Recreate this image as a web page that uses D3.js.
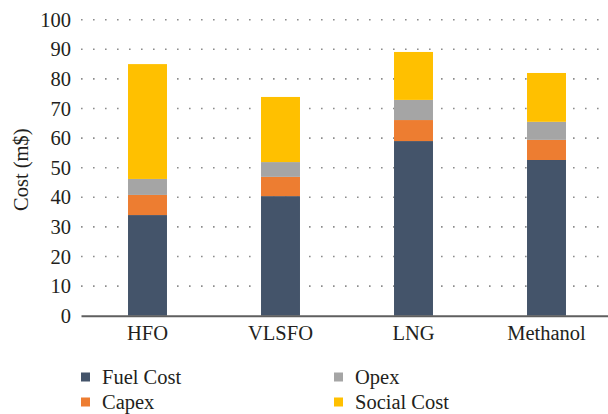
<!DOCTYPE html>
<html>
<head>
<meta charset="utf-8">
<script src="https://cdn.jsdelivr.net/npm/d3@7/dist/d3.min.js"></script>
<style>
  html, body { margin: 0; padding: 0; background: #fff; }
  svg { display: block; }
  svg text { font-family: "Liberation Serif", "DejaVu Serif", serif; fill: #231f20; }
</style>
</head>
<body>
<svg id="chart" width="608" height="414"></svg>
<script>
// Cost breakdown per fuel option (million $)
const categories = ["HFO", "VLSFO", "LNG", "Methanol"];
const seriesNames = ["Fuel Cost", "Capex", "Opex", "Social Cost"];
const fuelCost   = [34.0, 40.4, 59.0, 52.6];
const capex      = [6.8, 6.5, 7.1, 6.8];
const opex       = [5.4, 5.0, 6.8, 6.1];
const socialCost = [38.8, 22.0, 16.2, 16.5];
const yTicks = [0, 10, 20, 30, 40, 50, 60, 70, 80, 90, 100];
const colors = ["#44546A", "#ED7D31", "#A5A5A5", "#FFC000"];

const FONT = "'Liberation Serif', 'DejaVu Serif', serif";
const FS = 20.5;

const seriesValues = [fuelCost, capex, opex, socialCost];
const rows = categories.map((c, i) => {
  const r = { category: c };
  seriesNames.forEach((s, j) => { r[s] = seriesValues[j][i]; });
  return r;
});

const svg = d3.select("#chart");
const plotLeft = 81, plotRight = 613, plotTop = 19.7, plotBottom = 315.7;

const x = d3.scaleBand().domain(categories).range([plotLeft, plotRight])
  .paddingInner(0.707).paddingOuter(0.3535);
const y = d3.scaleLinear().domain([0, 100]).range([plotBottom, plotTop]);

// dotted horizontal gridlines
svg.append("g").selectAll("line").data(yTicks.filter(d => d > 0)).join("line")
  .attr("x1", plotLeft).attr("x2", plotRight)
  .attr("y1", d => y(d)).attr("y2", d => y(d))
  .attr("stroke", "#8c8c8c").attr("stroke-width", 1.6)
  .attr("stroke-dasharray", "1.6,10.4");

// y tick labels
const yAxis = svg.append("g").attr("transform", `translate(${plotLeft},0)`)
  .call(d3.axisLeft(y).tickValues(yTicks).tickSize(0).tickPadding(10))
  .attr("font-family", FONT).attr("font-size", FS);
yAxis.select(".domain").remove();
yAxis.selectAll("text").attr("fill", "#231f20");

// stacked bars
const stacked = d3.stack().keys(seriesNames)(rows);
svg.append("g").selectAll("g").data(stacked).join("g")
  .attr("fill", (d, i) => colors[i])
  .selectAll("rect").data(d => d).join("rect")
  .attr("x", d => x(d.data.category))
  .attr("width", x.bandwidth())
  .attr("y", d => y(d[1]))
  .attr("height", d => y(d[0]) - y(d[1]));

// x axis
const xAxis = svg.append("g").attr("transform", `translate(0,${plotBottom})`)
  .call(d3.axisBottom(x).tickSize(0).tickPadding(10))
  .attr("font-family", FONT).attr("font-size", FS);
xAxis.select(".domain").attr("stroke", "#5f5f5f").attr("stroke-width", 2);
xAxis.selectAll("text").attr("fill", "#231f20");

// y axis title
svg.append("text")
  .attr("transform", `translate(28,${(plotTop + plotBottom) / 2 + 2}) rotate(-90)`)
  .attr("text-anchor", "middle")
  .attr("font-family", FONT).attr("font-size", FS)
  .text("Cost (m$)");

// legend, two columns
const legendPos = [[81, 377], [81, 402], [334, 377], [334, 402]];
const legend = svg.append("g").selectAll("g").data(d3.range(seriesNames.length)).join("g")
  .attr("transform", d => `translate(${legendPos[d][0]},${legendPos[d][1]})`);
legend.append("rect").attr("x", 0).attr("y", -4.5).attr("width", 9).attr("height", 9)
  .attr("fill", d => colors[d]);
legend.append("text").attr("x", 21).attr("y", 0).attr("dy", "0.35em")
  .attr("font-family", FONT).attr("font-size", FS)
  .text(d => seriesNames[d]);
</script>
</body>
</html>
